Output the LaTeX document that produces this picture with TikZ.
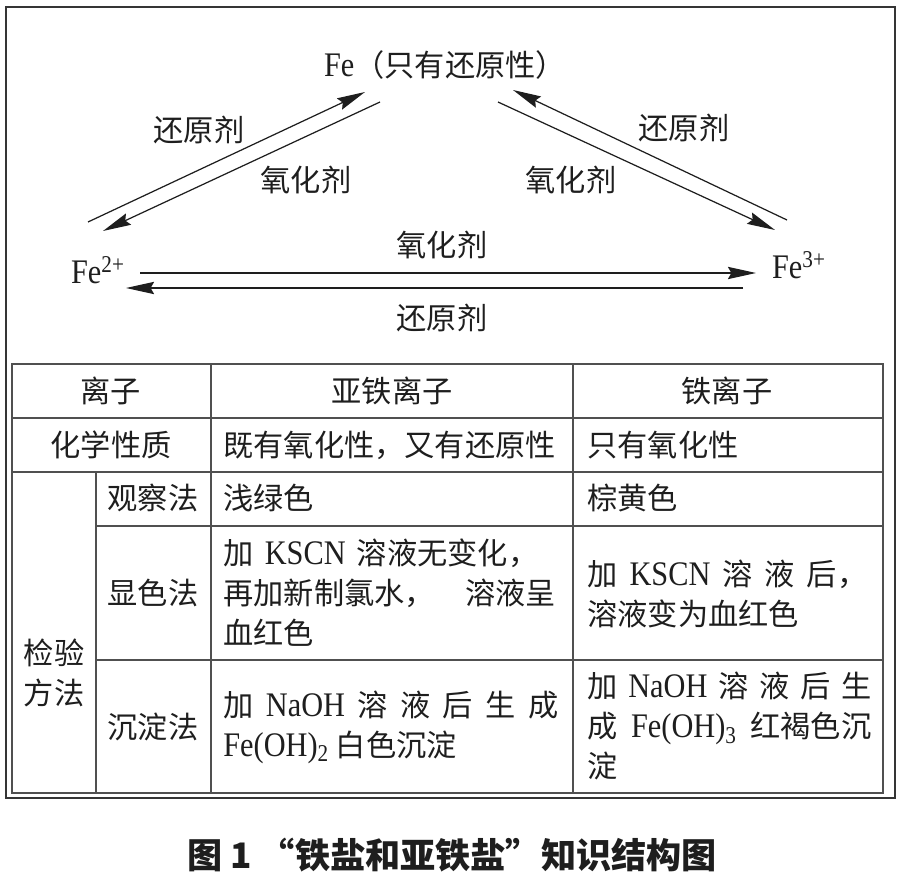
\documentclass[tikz,border=0pt]{standalone}
\usepackage{fontspec}
\setmainfont{Noto Sans CJK SC}
\newfontfamily\latinfont[Scale=1.14,FakeStretch=0.88]{Liberation Serif}
\usetikzlibrary{arrows.meta,calc}
\newcommand\tm[1]{{\latinfont #1}}
\newcommand\bodysize{\fontsize{17.2}{22.8}\selectfont}
\newcommand\jline[2]{\makebox[#1][s]{#2}}
\definecolor{ink}{HTML}{1E1E1E}
\definecolor{rulegray}{HTML}{505050}

\begin{document}
\begin{tikzpicture}[
  x=0.02cm, y=-0.02cm,
  every node/.style={inner sep=0pt, font=\bodysize, text=ink},
  cell/.style={anchor=west, align=left}
]
  \useasboundingbox (0,0) rectangle (900,875);
  \draw[line width=1.3pt, draw=ink!90] (6,7) rectangle (895,798);

  \node (fe)  at (445,65)  {\tm{Fe}（只有还原性）};
  \node (fe2) at (98,270)  {\tm{Fe\textsuperscript{2+}}};
  \node (fe3) at (799,265) {\tm{Fe\textsuperscript{3+}}};

  \begin{scope}[->, >={Stealth[length=16pt,width=7pt,inset=2pt]}, line width=0.7pt, draw=ink]
    \draw ($(fe2)+(-10,-48)$) -- ($(fe)+(-80,27)$);
    \draw ($(fe)+(-65,37)$)   -- ($(fe2)+(5,-39)$);
    \draw ($(fe3)+(-12,-45)$) -- ($(fe)+(68,25)$);
    \draw ($(fe)+(53,37)$)    -- ($(fe3)+(-24,-35)$);
    \draw ($(fe2)+(42,3)$)    -- ($(fe3)+(-43,8)$);
    \draw ($(fe3)+(-56,23)$)  -- ($(fe2)+(28,18)$);
  \end{scope}

  \node (red1) at (199,130) {还原剂};
  \node (ox1)  at (306,180) {氧化剂};
  \node (red2) at (684,128) {还原剂};
  \node (ox2)  at (571,180) {氧化剂};
  \node (ox3)  at (442,245) {氧化剂};
  \node (red3) at (442,318) {还原剂};

  \begin{scope}[draw=rulegray, line width=0.8pt]
    \draw (12,364) rectangle (883,793);
    \draw (12,418) -- (883,418);
    \draw (12,472) -- (883,472);
    \draw (96,526) -- (883,526);
    \draw (96,660) -- (883,660);
    \draw (96,472) -- (96,793);
    \draw (211,364) -- (211,793);
    \draw (573,364) -- (573,793);
  \end{scope}

  \node (hion) at (111,391) {离子};
  \node (hfe2) at (392,391) {亚铁离子};
  \node (hfe3) at (727,391) {铁离子};

  \node (prop)  at (111,445) {化学性质};
  \node (prop2) [cell] at (223,445) {既有氧化性，又有还原性};
  \node (prop3) [cell] at (587,445) {只有氧化性};

  \node (test) [align=center] at (54,673) {检验\\方法};

  \node (look)  at (153,498) {观察法};
  \node (look2) [cell] at (223,498) {浅绿色};
  \node (look3) [cell] at (587,498) {棕黄色};

  \node (color)  at (153,593) {显色法};
  \node (color2) [cell] at (223,593) {\jline{6.3cm}{加 \tm{KSCN} 溶液无变化，}\\
    \jline{6.65cm}{再加新制氯水， 溶液呈}\\血红色};
  \node (color3) [cell] at (587,594) {\jline{5.6cm}{加 \tm{KSCN} 溶 液 后，}\\溶液变为血红色};

  \node (ppt)  at (153,727) {沉淀法};
  \node (ppt2) [cell] at (223,727) {\jline{6.7cm}{加 \tm{NaOH} 溶 液 后 生 成}\\
    \tm{Fe(OH)\textsubscript{2}} 白色沉淀};
  \node (ppt3) [cell] at (587,726) {\jline{5.68cm}{加 \tm{NaOH} 溶 液 后 生}\\
    \jline{5.68cm}{成 \tm{Fe(OH)\textsubscript{3}} 红褐色沉}\\淀};

  \node (caption) [font=\fontsize{20}{24}\selectfont\bfseries] at (452,855)
    {图 1 “铁盐和亚铁盐”知识结构图};
\end{tikzpicture}
\end{document}
